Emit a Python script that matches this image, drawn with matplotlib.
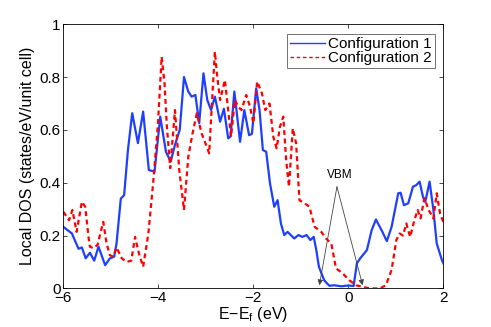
import matplotlib
matplotlib.use("Agg")
import matplotlib.pyplot as plt
from matplotlib.lines import Line2D

plt.rcParams['font.family'] = ['Liberation Sans', 'DejaVu Sans']

# Configuration 1 (blue, solid)
x1 = [-6.0, -5.82, -5.68, -5.61, -5.53, -5.44, -5.35, -5.26, -5.12, -5.02, -4.93, -4.88,
      -4.79, -4.72, -4.64, -4.55, -4.43, -4.32, -4.20, -4.08, -3.96, -3.84, -3.74, -3.65,
      -3.55, -3.46, -3.37, -3.30, -3.22, -3.14, -3.05, -2.97, -2.89, -2.81, -2.70, -2.62,
      -2.53, -2.48, -2.40, -2.28, -2.19, -2.09, -2.03, -1.94, -1.87, -1.80, -1.73, -1.65,
      -1.56, -1.49, -1.42, -1.35, -1.28, -1.14, -1.05, -0.97, -0.88, -0.80, -0.73, -0.68,
      -0.62, -0.51, -0.40, -0.30, -0.15, 0.0, 0.11, 0.18, 0.25, 0.39, 0.49, 0.58, 0.70,
      0.81, 0.91, 1.05, 1.10, 1.17, 1.26, 1.36, 1.43, 1.50, 1.57, 1.62, 1.71, 1.79, 1.86,
      1.97, 2.0]
y1 = [0.233, 0.208, 0.15, 0.155, 0.114, 0.135, 0.105, 0.158, 0.088, 0.114, 0.12, 0.17,
      0.34, 0.353, 0.524, 0.663, 0.55, 0.669, 0.448, 0.442, 0.65, 0.517, 0.48, 0.543,
      0.60, 0.80, 0.745, 0.726, 0.732, 0.625, 0.814, 0.713, 0.675, 0.726, 0.631, 0.68,
      0.568, 0.575, 0.745, 0.555, 0.675, 0.58, 0.585, 0.757, 0.675, 0.524, 0.517, 0.398,
      0.309, 0.334, 0.246, 0.202, 0.214, 0.189, 0.202, 0.195, 0.202, 0.183, 0.195, 0.15,
      0.082, 0.031, 0.01, 0.012, 0.008, 0.011, 0.009, 0.095, 0.114, 0.145, 0.22, 0.261, 0.22,
      0.179, 0.233, 0.36, 0.362, 0.315, 0.322, 0.385, 0.391, 0.404, 0.347, 0.328, 0.404, 0.297,
      0.17, 0.107, 0.095]

# Configuration 2 (red, dashed)
x2 = [-6.0, -5.88, -5.81, -5.72, -5.61, -5.54, -5.47, -5.44, -5.37, -5.28, -5.16, -5.09,
      -5.02, -4.95, -4.88, -4.77, -4.67, -4.57, -4.49, -4.41, -4.32, -4.21, -4.11, -4.01,
      -3.93, -3.87, -3.82, -3.75, -3.65, -3.56, -3.46, -3.37, -3.28, -3.19, -3.09, -2.98,
      -2.93, -2.88, -2.81, -2.76, -2.70, -2.65, -2.60, -2.53, -2.47, -2.39, -2.32, -2.25,
      -2.15, -2.07, -2.00, -1.92, -1.82, -1.75, -1.66, -1.58, -1.51, -1.44, -1.37, -1.31,
      -1.25, -1.17, -1.10, -1.03, -0.92, -0.82, -0.71, -0.57, -0.47, -0.36, -0.26, -0.12,
      0.02, 0.16, 0.30, 0.45, 0.66, 0.79, 0.91, 1.01, 1.08, 1.15, 1.22, 1.30, 1.39, 1.46,
      1.52, 1.60, 1.69, 1.79, 1.86, 1.93, 2.0]
y2 = [0.29, 0.258, 0.297, 0.214, 0.328, 0.309, 0.195, 0.158, 0.152, 0.165, 0.252, 0.17,
      0.126, 0.12, 0.155, 0.114, 0.10, 0.105, 0.195, 0.133, 0.082, 0.208, 0.398, 0.618,
      0.877, 0.776, 0.612, 0.455, 0.675, 0.448, 0.297, 0.498, 0.587, 0.663, 0.587, 0.536,
      0.511, 0.675, 0.896, 0.80, 0.713, 0.751, 0.789, 0.675, 0.574, 0.713, 0.688, 0.675,
      0.732, 0.688, 0.625, 0.783, 0.739, 0.675, 0.70, 0.574, 0.53, 0.612, 0.65, 0.486,
      0.385, 0.606, 0.549, 0.334, 0.322, 0.309, 0.233, 0.214, 0.189, 0.17, 0.076, 0.057,
      0.031, 0.012, 0.006, 0.0, 0.0, 0.012, 0.07, 0.183, 0.208, 0.20, 0.246, 0.195, 0.259,
      0.297, 0.265, 0.341, 0.297, 0.265, 0.36, 0.284, 0.25]

labels = ['Configuration 1', 'Configuration 2']
xticks = [-6, -4, -2, 0, 2]
yticks = [0, 0.2, 0.4, 0.6, 0.8, 1]
ytick_labels = ['0', '0.2', '0.4', '0.6', '0.8', '1']
xtick_labels = ['\u22126', '\u22124', '\u22122', '0', '2']

# VBM annotation targets
vbm_text = (-0.19, 0.43)
vbm_points = [(-0.61, 0.012), (0.30, 0.012)]

fig = plt.figure(figsize=(4.91, 3.27), dpi=100)
ax = fig.add_axes([0.129, 0.118, 0.774, 0.808])

blue = '#1f3fff'
red = '#ff0000'
ax.plot(x1, y1, color=blue, lw=1.6, solid_joinstyle='round')
ax.plot(x2, y2, color=red, lw=1.6, linestyle=(0, (2.2, 1.6)))

ax.set_xlim(-6, 2)
ax.set_ylim(0, 1)
ax.set_xticks(xticks)
ax.set_xticklabels(xtick_labels)
ax.set_yticks(yticks)
ax.set_yticklabels(ytick_labels)
ax.tick_params(direction='in', top=True, right=True, labelsize=11, length=3, width=0.5, pad=2)
for s in ax.spines.values():
    s.set_linewidth(0.6)

ax.set_xlabel('E\u2212E$_\\mathregular{f}$ (eV)', fontsize=11.5, labelpad=0)
ax.set_ylabel('Local DOS (states/eV/unit cell)', fontsize=11.5, labelpad=3)

for pt in vbm_points:
    ax.annotate('', xy=pt, xytext=(-0.24, 0.385),
                arrowprops=dict(arrowstyle='-|>', color='#444444', lw=0.6,
                                mutation_scale=8, shrinkA=0, shrinkB=0,
                                facecolor='black'))
ax.text(vbm_text[0], vbm_text[1], 'VBM', fontsize=8.5, ha='center', va='center')

handles = [Line2D([], [], color=blue, lw=1.0),
           Line2D([], [], color=red, lw=1.0, linestyle=(0, (2.5, 2)))]
leg = ax.legend(handles, labels, loc='upper right', bbox_to_anchor=(0.977, 0.962),
                fontsize=11, frameon=True, fancybox=False, edgecolor='#333333',
                handlelength=2.3, handletextpad=0.2, borderpad=0.2, labelspacing=0.0,
                borderaxespad=0)
leg.get_frame().set_linewidth(0.6)

fig.savefig('out.png', dpi=100)
